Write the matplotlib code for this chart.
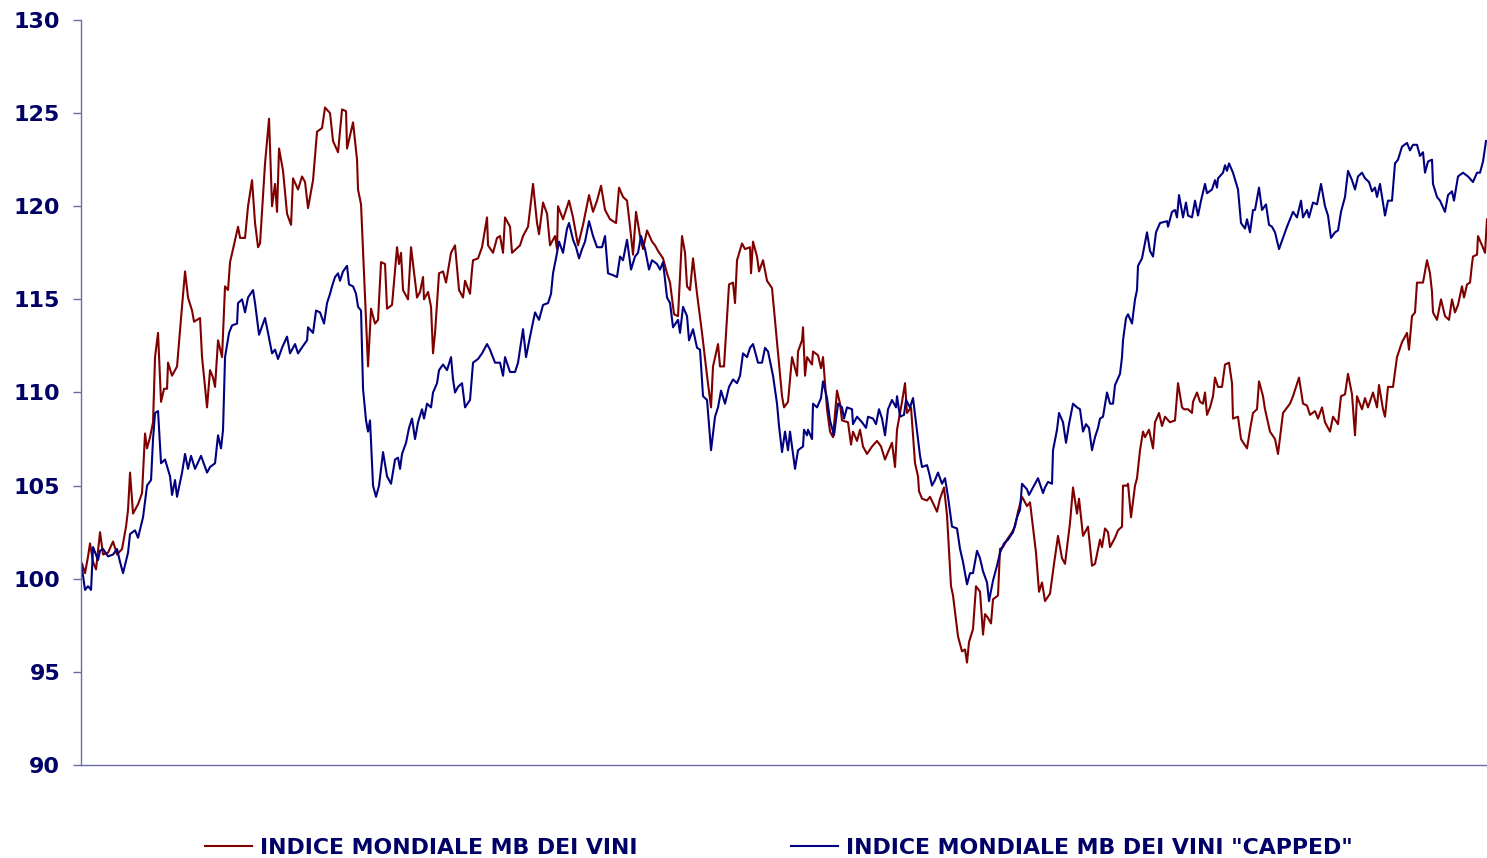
import matplotlib
matplotlib.use("Agg")
import matplotlib.pyplot as plt

# giorni di borsa (indice progressivo) e valori
giorni_mb = [
    1, 4, 7, 9, 12, 15, 19, 22, 27, 32, 36, 41, 45, 47, 49, 52, 57, 61, 64, 66,
    69, 72, 74, 77, 80, 83, 86, 87, 91, 96, 100, 104, 107, 111, 113, 119, 121, 126, 129, 132,
    134, 137, 141, 144, 147, 149, 152, 157, 159, 164, 167, 171, 174, 177, 179, 184, 188, 191, 194, 196,
    198, 202, 206, 210, 212, 217, 221, 224, 227, 232, 236, 241, 244, 249, 252, 257, 261, 265, 266, 272,
    276, 277, 280, 287, 290, 294, 297, 300, 304, 306, 311, 316, 318, 320, 322, 327, 330, 336, 339, 342,
    343, 347, 350, 352, 354, 358, 362, 365, 370, 374, 378, 382, 384, 389, 391, 392, 397, 401, 406, 407,
    412, 416, 419, 422, 424, 429, 431, 439, 442, 447, 452, 456, 458, 462, 466, 469, 474, 476, 477, 482,
    488, 492, 497, 502, 508, 512, 516, 520, 524, 529, 535, 538, 542, 546, 549, 552, 555, 559, 562, 566,
    571, 574, 577, 582, 586, 589, 593, 597, 601, 604, 606, 609, 612, 616, 621, 626, 630, 632, 637, 639,
    643, 646, 648, 652, 654, 656, 661, 664, 669, 670, 672, 676, 678, 682, 686, 691, 696, 701, 703, 707,
    711, 716, 717, 721, 722, 724, 726, 731, 732, 737, 740, 742, 746, 749, 752, 756, 759, 761, 767, 770,
    772, 776, 779, 782, 786, 791, 796, 800, 804, 807, 811, 814, 816, 821, 824, 826, 830, 834, 837, 838,
    841, 846, 849, 856, 859, 863, 866, 870, 872, 877, 881, 884, 886, 888, 892, 895, 899, 902, 904, 907,
    910, 912, 917, 919, 922, 926, 931, 934, 937, 941, 946, 949, 955, 958, 961, 964, 969, 973, 977, 981,
    984, 989, 992, 996, 998, 1002, 1007, 1011, 1014, 1019, 1021, 1024, 1027, 1029, 1034, 1037, 1041, 1042, 1046, 1047,
    1050, 1054, 1056, 1059, 1062, 1064, 1068, 1072, 1074, 1078, 1081, 1084, 1089, 1094, 1097, 1101, 1103, 1107, 1111, 1112,
    1116, 1119, 1122, 1124, 1126, 1129, 1132, 1134, 1137, 1141, 1144, 1148, 1151, 1152, 1157, 1160, 1166, 1169, 1172, 1176,
    1178, 1182, 1184, 1189, 1194, 1197, 1202, 1209, 1212, 1218, 1222, 1226, 1229, 1234, 1237, 1241, 1244, 1249, 1252, 1257,
    1260, 1264, 1267, 1271, 1274, 1276, 1281, 1284, 1287, 1292, 1296, 1298, 1302, 1304, 1307, 1312, 1316, 1321, 1326, 1328,
    1331, 1334, 1336, 1339, 1342, 1346, 1349, 1351, 1352, 1356, 1360, 1364, 1368, 1371, 1374, 1377, 1381, 1383, 1386, 1389,
    1391, 1392, 1396, 1397, 1401, 1404, 1406,
]
indice_mb = [
    100.8, 100.3, 101.2, 101.9, 100.9, 100.5, 102.5, 101.3, 101.4, 102.0, 101.3, 101.6, 102.8, 103.7, 105.7, 103.5, 104.0, 104.6, 107.8, 107.0,
    107.6, 108.4, 111.9, 113.2, 109.5, 110.2, 110.2, 111.6, 110.9, 111.4, 114.0, 116.5, 115.1, 114.4, 113.8, 114.0, 111.9, 109.2, 111.2, 110.8,
    110.3, 112.8, 111.9, 115.7, 115.5, 117.0, 117.7, 118.9, 118.3, 118.3, 120.0, 121.4, 119.1, 117.8, 118.0, 122.3, 124.7, 120.0, 121.2, 119.7,
    123.1, 121.9, 119.6, 119.0, 121.5, 120.9, 121.6, 121.3, 119.9, 121.4, 124.0, 124.2, 125.3, 125.0, 123.5, 122.9, 125.2, 125.1, 123.1, 124.5,
    122.5, 120.9, 120.1, 111.4, 114.5, 113.7, 113.9, 117.0, 116.9, 114.5, 114.7, 117.8, 116.9, 117.5, 115.5, 115.0, 117.8, 115.1, 115.4, 116.2,
    115.0, 115.4, 114.6, 112.1, 113.2, 116.4, 116.5, 115.9, 117.5, 117.9, 115.5, 115.1, 116.0, 115.3, 116.6, 117.1, 117.2, 117.8, 119.4, 117.9,
    117.5, 118.3, 118.4, 117.5, 119.4, 118.9, 117.5, 117.9, 118.4, 118.9, 121.2, 119.1, 118.5, 120.2, 119.6, 117.9, 118.4, 117.7, 120.0, 119.3,
    120.3, 119.4, 117.9, 119.0, 120.6, 119.7, 120.3, 121.1, 119.8, 119.3, 119.1, 121.0, 120.5, 120.3, 118.9, 117.4, 119.7, 118.4, 117.7, 118.7,
    118.1, 117.9, 117.6, 117.2, 116.4, 115.9, 114.2, 114.1, 118.4, 117.5, 115.7, 115.5, 117.2, 115.3, 113.2, 110.9, 109.2, 111.4, 112.6, 111.4,
    111.4, 114.1, 115.8, 115.9, 114.8, 117.1, 118.0, 117.7, 117.8, 116.4, 118.1, 117.3, 116.5, 117.1, 116.0, 115.6, 112.7, 109.8, 109.2, 109.5,
    111.9, 110.9, 112.2, 112.8, 113.5, 110.9, 111.9, 111.5, 112.2, 112.0, 111.3, 111.9, 109.1, 107.9, 107.6, 110.1, 109.4, 108.5, 108.4, 107.2,
    107.9, 107.4, 108.0, 107.1, 106.7, 107.1, 107.4, 107.1, 106.4, 106.8, 107.3, 106.0, 108.0, 109.5, 110.5, 108.9, 109.2, 106.2, 105.5, 104.7,
    104.3, 104.2, 104.4, 103.6, 104.3, 104.9, 103.4, 99.6, 99.1, 96.9, 96.1, 96.2, 95.5, 96.6, 97.3, 99.6, 99.3, 97.0, 98.1, 97.9,
    97.6, 98.9, 99.1, 101.6, 101.7, 102.1, 102.5, 102.8, 103.6, 104.4, 103.9, 104.1, 101.4, 99.3, 99.8, 98.8, 99.2, 100.8, 102.3, 101.1,
    100.8, 103.0, 104.9, 103.5, 104.3, 102.3, 102.8, 100.7, 100.8, 102.1, 101.7, 102.7, 102.5, 101.7, 102.2, 102.6, 102.8, 105.0, 105.0, 105.1,
    103.3, 105.0, 105.4, 106.9, 107.9, 107.6, 108.0, 107.0, 108.4, 108.9, 108.2, 108.7, 108.4, 108.5, 110.5, 109.2, 109.1, 109.1, 108.9, 109.5,
    110.0, 109.5, 109.4, 110.0, 108.8, 109.2, 109.8, 110.8, 110.3, 110.3, 111.5, 111.6, 110.5, 108.6, 108.7, 107.5, 107.0, 108.0, 108.9, 109.1,
    110.6, 109.8, 109.1, 107.9, 107.5, 106.7, 108.9, 109.4, 109.8, 110.8, 109.4, 109.3, 108.8, 109.0, 108.6, 109.2, 108.4, 107.9, 108.7, 108.3,
    109.8, 109.9, 111.0, 109.9, 107.7, 109.8, 109.1, 109.7, 109.2, 110.0, 109.2, 110.4, 109.1, 108.7, 110.3, 110.3, 111.9, 112.7, 113.2, 112.3,
    114.1, 114.3, 115.9, 115.9, 115.9, 117.1, 116.4, 115.4, 114.3, 113.9, 115.0, 114.1, 113.9, 115.0, 114.3, 114.7, 115.7, 115.1, 115.8, 115.9,
    116.9, 117.3, 117.4, 118.4, 117.9, 117.5, 119.3,
]

giorni_capped = [
    0, 4, 7, 10, 12, 17, 19, 22, 27, 32, 36, 39, 42, 47, 49, 54, 57, 62, 66, 70,
    72, 74, 77, 80, 84, 89, 91, 94, 96, 101, 104, 107, 110, 114, 120, 126, 129, 134, 137, 140,
    142, 144, 148, 151, 156, 157, 161, 164, 167, 172, 174, 178, 184, 187, 191, 194, 197, 201, 206, 209,
    214, 217, 222, 226, 227, 232, 235, 239, 243, 246, 249, 251, 254, 257, 259, 262, 266, 268, 272, 275,
    277, 280, 282, 285, 287, 289, 292, 295, 298, 302, 306, 310, 314, 317, 319, 321, 325, 328, 331, 334,
    337, 341, 343, 346, 350, 352, 356, 358, 362, 366, 370, 372, 374, 377, 381, 384, 389, 391, 392, 397,
    401, 406, 409, 414, 419, 422, 424, 429, 434, 437, 442, 445, 449, 454, 458, 462, 467, 470, 472, 476,
    478, 482, 486, 488, 492, 495, 498, 501, 504, 508, 512, 516, 521, 524, 527, 532, 536, 539, 542, 546,
    550, 554, 557, 560, 564, 568, 571, 576, 579, 582, 586, 589, 592, 597, 599, 602, 606, 608, 612, 616,
    619, 622, 626, 630, 634, 637, 640, 644, 648, 652, 656, 659, 662, 666, 669, 672, 677, 681, 684, 687,
    692, 696, 698, 701, 704, 707, 709, 714, 717, 722, 723, 726, 727, 731, 732, 736, 740, 742, 746, 749,
    753, 757, 761, 763, 766, 771, 772, 776, 781, 785, 787, 792, 795, 798, 801, 804, 807, 811, 815, 816,
    819, 823, 825, 829, 832, 836, 839, 841, 846, 848, 851, 854, 857, 861, 864, 867, 871, 876, 879, 882,
    886, 889, 892, 896, 899, 902, 906, 908, 912, 916, 919, 923, 927, 932, 936, 939, 941, 946, 948, 952,
    957, 962, 964, 967, 971, 972, 976, 978, 982, 985, 988, 992, 996, 999, 1002, 1005, 1008, 1011, 1014, 1017,
    1019, 1022, 1026, 1029, 1032, 1034, 1039, 1041, 1042, 1045, 1047, 1051, 1054, 1056, 1057, 1061, 1066, 1069, 1072, 1075,
    1079, 1086, 1087, 1091, 1094, 1096, 1098, 1102, 1105, 1107, 1111, 1114, 1117, 1120, 1124, 1126, 1131, 1134, 1136, 1137,
    1142, 1144, 1146, 1148, 1152, 1157, 1160, 1164, 1166, 1169, 1172, 1174, 1178, 1181, 1185, 1188, 1191, 1194, 1198, 1202,
    1206, 1209, 1212, 1216, 1220, 1222, 1226, 1228, 1232, 1236, 1240, 1244, 1247, 1250, 1254, 1257, 1260, 1264, 1267, 1271,
    1274, 1277, 1281, 1284, 1288, 1291, 1294, 1296, 1299, 1302, 1304, 1307, 1311, 1314, 1317, 1321, 1326, 1329, 1332, 1336,
    1339, 1342, 1344, 1347, 1351, 1352, 1356, 1359, 1364, 1367, 1371, 1373, 1377, 1382, 1387, 1392, 1396, 1399, 1402, 1405,
]
indice_capped = [
    100.9, 99.4, 99.6, 99.4, 101.7, 101.0, 101.5, 101.6, 101.2, 101.3, 101.6, 100.9, 100.3, 101.4, 102.4, 102.6, 102.2, 103.3, 105.0, 105.3,
    107.5, 108.9, 109.0, 106.2, 106.4, 105.5, 104.5, 105.3, 104.4, 105.7, 106.7, 105.9, 106.6, 105.9, 106.6, 105.7, 106.0, 106.2, 107.7, 107.0,
    108.0, 111.9, 113.2, 113.6, 113.7, 114.8, 115.0, 114.3, 115.1, 115.5, 114.8, 113.1, 114.0, 113.2, 112.1, 112.3, 111.8, 112.4, 113.0, 112.1,
    112.6, 112.1, 112.5, 112.8, 113.5, 113.2, 114.4, 114.3, 113.7, 114.8, 115.3, 115.7, 116.2, 116.4, 116.0, 116.5, 116.8, 115.8, 115.7, 115.3,
    114.6, 114.4, 110.2, 108.5, 107.9, 108.5, 105.0, 104.4, 105.0, 106.8, 105.5, 105.1, 106.4, 106.5, 105.9, 106.7, 107.3, 108.1, 108.6, 107.5,
    108.4, 109.1, 108.6, 109.4, 109.2, 110.0, 110.5, 111.2, 111.5, 111.2, 111.9, 110.7, 110.0, 110.3, 110.5, 109.2, 109.6, 110.9, 111.6, 111.8,
    112.1, 112.6, 112.3, 111.6, 111.6, 110.9, 111.9, 111.1, 111.1, 111.6, 113.4, 111.9, 113.0, 114.3, 113.9, 114.7, 114.8, 115.3, 116.4, 117.5,
    118.1, 117.5, 118.8, 119.1, 118.2, 117.8, 117.2, 117.7, 118.1, 119.2, 118.4, 117.8, 117.8, 118.4, 116.4, 116.3, 116.2, 117.3, 117.1, 118.2,
    116.6, 117.3, 117.5, 118.4, 117.7, 116.6, 117.1, 116.9, 116.6, 117.0, 115.1, 114.8, 113.5, 113.9, 113.2, 114.6, 114.1, 112.8, 113.4, 112.4,
    112.3, 109.8, 109.6, 106.9, 108.7, 109.2, 110.1, 109.4, 110.3, 110.7, 110.5, 110.9, 112.1, 111.9, 112.4, 112.6, 111.6, 111.6, 112.4, 112.2,
    110.9, 109.4, 108.2, 106.8, 107.9, 106.9, 107.9, 105.9, 106.9, 107.1, 108.0, 107.7, 108.0, 107.5, 109.4, 109.2, 109.7, 110.6, 109.7, 108.5,
    107.7, 109.4, 109.2, 108.6, 109.2, 109.1, 108.3, 108.7, 108.4, 108.1, 108.7, 108.6, 108.3, 109.1, 108.6, 107.7, 109.1, 109.6, 109.2, 109.8,
    108.7, 108.8, 109.6, 109.2, 109.7, 107.9, 106.6, 106.0, 106.1, 105.7, 105.0, 105.3, 105.7, 105.1, 105.4, 104.4, 102.8, 102.7, 101.6, 100.9,
    99.7, 100.3, 100.3, 101.5, 101.1, 100.4, 99.8, 98.8, 99.9, 100.7, 101.4, 101.9, 102.1, 102.5, 103.3, 103.7, 105.1, 104.8, 104.5, 104.9,
    105.4, 104.6, 104.9, 105.2, 105.1, 106.9, 108.0, 108.9, 108.4, 107.3, 108.3, 109.4, 109.2, 109.1, 107.9, 108.3, 108.1, 106.9, 107.6, 108.1,
    108.6, 108.7, 110.0, 109.4, 109.4, 110.4, 111.0, 111.9, 112.8, 114.0, 114.2, 113.7, 115.0, 115.5, 116.8, 117.2, 118.6, 117.6, 117.3, 118.6,
    119.1, 119.2, 118.9, 119.7, 119.8, 119.4, 120.6, 119.4, 120.2, 119.5, 119.4, 120.3, 119.5, 120.3, 121.2, 120.7, 120.9, 121.4, 121.0, 121.5,
    121.8, 122.2, 121.9, 122.3, 121.8, 120.9, 119.1, 118.8, 119.3, 118.6, 119.8, 119.8, 121.0, 119.8, 120.1, 119.0, 118.9, 118.6, 117.7, 118.3,
    118.9, 119.3, 119.7, 119.4, 120.3, 119.4, 119.8, 119.4, 120.2, 120.1, 121.2, 120.0, 119.5, 118.3, 118.6, 118.7, 119.7, 120.5, 121.9, 121.4,
    120.9, 121.6, 121.8, 121.5, 121.3, 120.8, 121.0, 120.5, 121.2, 120.2, 119.5, 120.3, 120.3, 122.3, 122.5, 123.2, 123.4, 123.0, 123.3, 123.3,
    122.7, 122.9, 121.8, 122.4, 122.5, 121.2, 120.5, 120.3, 119.7, 120.6, 120.8, 120.3, 121.6, 121.8, 121.6, 121.3, 121.8, 121.8, 122.4, 123.5,
]

etichette = ["INDICE MONDIALE MB DEI VINI", 'INDICE MONDIALE MB DEI VINI "CAPPED"']
y_ticks = [90, 95, 100, 105, 110, 115, 120, 125, 130]

navy = "#000066"
rosso = "#800000"
blu = "#000080"
asse = "#6b6ba8"

fig = plt.figure(figsize=(14.87, 8.58), dpi=100)
ax = fig.add_axes([0.0545, 0.1084, 0.9455, 0.8683])

ax.plot(giorni_mb, indice_mb, color=rosso, lw=1.5, label=etichette[0])
ax.plot(giorni_capped, indice_capped, color=blu, lw=1.5, label=etichette[1])

ax.set_xlim(0, 1406)
ax.set_ylim(90, 130)
ax.set_yticks(y_ticks)
ax.set_xticks([])

for s in ["top", "right"]:
    ax.spines[s].set_visible(False)
for s in ["left", "bottom"]:
    ax.spines[s].set_color(asse)
    ax.spines[s].set_linewidth(1.0)

ax.tick_params(axis="y", direction="out", length=6, width=1.0, color=asse,
               pad=9, labelsize=16, labelcolor=navy)
for lab in ax.get_yticklabels():
    lab.set_fontweight("bold")

leg = ax.legend(loc="center", bbox_to_anchor=(0.4964, -0.111), ncol=2, frameon=False,
                handlelength=2.15, handletextpad=0.37, columnspacing=7.0,
                prop={"size": 15.8, "weight": "bold"})
for t in leg.get_texts():
    t.set_color(navy)

fig.savefig("out.png", dpi=100)
